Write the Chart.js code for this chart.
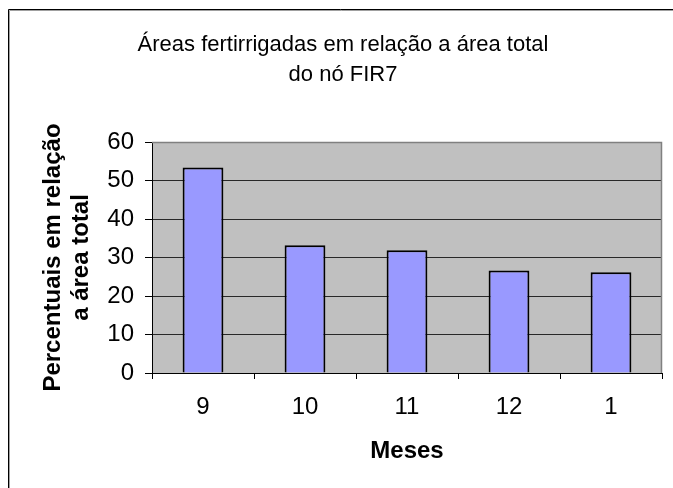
<!DOCTYPE html>
<html>
<head>
<meta charset="utf-8">
<script src="https://cdn.jsdelivr.net/npm/chart.js@4/dist/chart.umd.min.js"></script>
<style>
  html, body { margin: 0; padding: 0; background: #ffffff; }
  #wrap { width: 673px; height: 488px; }
</style>
</head>
<body>
<div id="wrap"><canvas id="c" width="673" height="488"></canvas></div>
<script>
const categories = ['9', '10', '11', '12', '1'];
const values = [53.4, 33.2, 31.9, 26.6, 26.2];
const titleLines = ['Áreas fertirrigadas em relação a área total', 'do nó FIR7'];
const yTitleLines = ['Percentuais em relação', 'a área total'];
const xTitle = 'Meses';
const yMin = 0, yMax = 60, yStep = 10;

const FONT = '"Liberation Sans", Arial, sans-serif';

const framePlugin = {
  id: 'frame',
  beforeDraw(chart) {
    const ctx = chart.ctx;
    const a = chart.chartArea;
    ctx.save();
    ctx.fillStyle = '#ffffff';
    ctx.fillRect(0, 0, chart.width, chart.height);
    // outer frame
    ctx.strokeStyle = '#000000';
    ctx.lineWidth = 1;
    ctx.beginPath();
    ctx.moveTo(8.5, chart.height);
    ctx.lineTo(8.5, 9.5);
    ctx.lineTo(chart.width, 9.5);
    ctx.stroke();
    ctx.strokeStyle = '#a0a0a0';
    ctx.beginPath();
    ctx.moveTo(9.5, chart.height);
    ctx.lineTo(9.5, 10.5);
    ctx.lineTo(chart.width, 10.5);
    ctx.stroke();
    // plot background
    ctx.fillStyle = '#c0c0c0';
    ctx.fillRect(a.left, a.top, a.right - a.left, a.bottom - a.top);
    ctx.restore();
  },
  beforeDatasetsDraw(chart) {
    const ctx = chart.ctx;
    const a = chart.chartArea;
    ctx.save();
    ctx.strokeStyle = '#808080';
    ctx.lineWidth = 1.5;
    ctx.beginPath();
    ctx.moveTo(a.left, a.top + 0.5);
    ctx.lineTo(a.right - 0.5, a.top + 0.5);
    ctx.lineTo(a.right - 0.5, a.bottom);
    ctx.stroke();
    ctx.restore();
  }
};

new Chart(document.getElementById('c'), {
  type: 'bar',
  data: {
    labels: categories,
    datasets: [{
      data: values,
      backgroundColor: '#9999ff',
      borderColor: '#000000',
      borderWidth: 2,
      barPercentage: 0.4,
      categoryPercentage: 1.0
    }]
  },
  options: {
    responsive: false,
    animation: false,
    devicePixelRatio: 1,
    layout: { padding: { left: 13, right: 0, top: 0, bottom: 0 } },
    plugins: {
      legend: { display: false },
      tooltip: { enabled: false },
      title: {
        display: true,
        text: titleLines,
        color: '#000000',
        font: { family: FONT, size: 22, weight: 'normal', lineHeight: 30 / 22 },
        padding: { top: 30, bottom: 52 }
      }
    },
    scales: {
      x: {
        afterFit(s) { s.height = 115; },
        grid: {
          display: true,
          drawOnChartArea: false,
          drawTicks: true,
          tickLength: 6,
          tickColor: '#000000',
          offset: true
        },
        border: { display: true, color: '#000000', width: 1 },
        ticks: {
          color: '#000000',
          font: { family: FONT, size: 24 },
          padding: 14,
          maxRotation: 0
        },
        title: {
          display: true,
          text: xTitle,
          color: '#000000',
          font: { family: FONT, size: 24, weight: 'bold' },
          padding: { top: 0, bottom: 22 }
        }
      },
      y: {
        min: yMin,
        max: yMax,
        afterFit(s) { s.width = 139; },
        grid: {
          color: (c) => (c.tick && c.tick.value === yMax) ? '#808080' : '#282828',
          lineWidth: 1,
          drawTicks: true,
          tickLength: 7,
          tickColor: '#000000'
        },
        border: { display: true, color: '#000000', width: 1 },
        ticks: {
          stepSize: yStep,
          color: '#000000',
          font: { family: FONT, size: 24 },
          padding: 11
        },
        title: {
          display: true,
          text: yTitleLines,
          color: '#000000',
          font: { family: FONT, size: 24, weight: 'bold', lineHeight: 1.17 },
          padding: { top: 26, bottom: 0 }
        }
      },
      yPad: {
        type: 'linear',
        position: 'right',
        display: true,
        afterFit(s) { s.width = 11; },
        grid: { display: false, drawTicks: false },
        border: { display: false },
        ticks: { display: false },
        title: { display: false }
      }
    }
  },
  plugins: [framePlugin]
});
</script>
</body>
</html>
